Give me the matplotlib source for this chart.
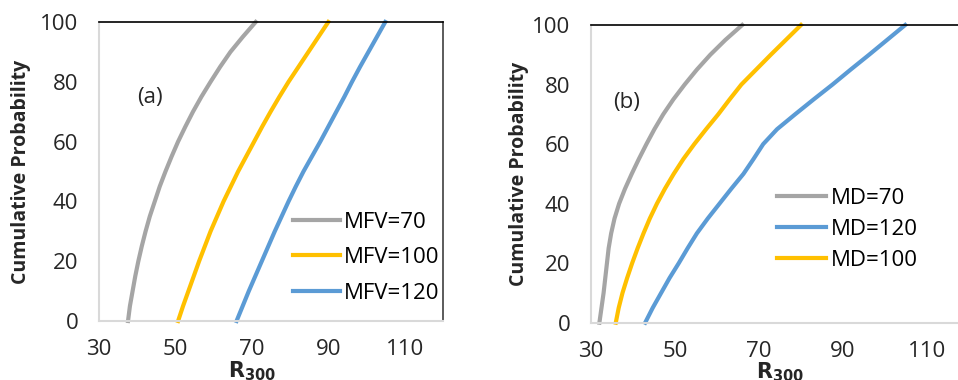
import matplotlib
matplotlib.use("Agg")
import matplotlib.pyplot as plt

plt.rcParams['font.family'] = ['Open Sans', 'DejaVu Sans']

# 누적 확률 (y 값)
prob = [0, 5, 10, 15, 20, 25, 30, 35, 40, 45, 50,
        55, 60, 65, 70, 75, 80, 85, 90, 95, 100]

# (a) MFV 곡선
mfv70 = [37.6, 38.1, 38.8, 39.5, 40.3, 41.2, 42.2, 43.3, 44.6, 45.9, 47.4,
         49.0, 50.7, 52.6, 54.6, 56.8, 59.2, 61.7, 64.4, 67.6, 71.0]
mfv100 = [50.7, 52.0, 53.4, 54.8, 56.2, 57.7, 59.2, 60.9, 62.6, 64.5, 66.4,
          68.5, 70.6, 72.7, 74.9, 77.2, 79.6, 82.2, 84.8, 87.4, 90.0]
mfv120 = [66.0, 67.6, 69.2, 70.9, 72.6, 74.3, 76.0, 77.8, 79.6, 81.5, 83.5,
          85.7, 87.9, 90.0, 92.1, 94.2, 96.2, 98.3, 100.5, 102.7, 104.9]

# (b) MD 곡선
md70 = [32.0, 32.5, 33.0, 33.4, 33.8, 34.2, 34.8, 35.6, 36.7, 38.1, 39.7,
        41.4, 43.2, 45.1, 47.2, 49.6, 52.3, 55.2, 58.4, 62.0, 66.0]
md100 = [35.9, 36.6, 37.5, 38.6, 39.8, 41.1, 42.5, 44.0, 45.7, 47.6, 49.7,
         52.0, 54.6, 57.4, 60.3, 63.0, 65.8, 69.3, 72.8, 76.4, 80.0]
md120 = [42.9, 44.7, 46.7, 48.7, 50.9, 53.0, 55.2, 57.8, 60.6, 63.4, 66.3,
         68.7, 71.0, 74.3, 78.6, 83.0, 87.5, 91.8, 96.2, 100.5, 104.8]

xticks = [30, 50, 70, 90, 110]
yticks = [0, 20, 40, 60, 80, 100]

GRAY = '#A5A5A5'
YELLOW = '#FFC000'
BLUE = '#5B9BD5'
TXT = '#262626'

fig = plt.figure(figsize=(9.58, 3.8), dpi=100)
ax1 = fig.add_axes([0.1033, 0.1553, 0.3591, 0.7868])
ax2 = fig.add_axes([0.6169, 0.1508, 0.3946, 0.7834])


def style(ax, right_visible):
    ax.set_xlim(30, 120)
    ax.set_ylim(0, 100)
    ax.set_xticks(xticks)
    ax.set_yticks(yticks)
    ax.tick_params(length=0, labelsize=16, pad=15, colors=TXT)
    ax.tick_params(axis='x', pad=13)
    for s in ('left', 'bottom'):
        ax.spines[s].set_color('#D9D9D9')
        ax.spines[s].set_linewidth(1.5)
    ax.spines['top'].set_color('black')
    ax.spines['top'].set_linewidth(1.2)
    ax.spines['right'].set_color('#404040')
    ax.spines['right'].set_linewidth(1.2)
    ax.spines['right'].set_visible(right_visible)
    ax.set_ylabel('Cumulative Probability', fontsize=14, fontweight='bold', color=TXT)
    ax.set_xlabel(r'$\mathbf{R}_{\mathbf{300}}$', fontsize=15, color=TXT)


lw = 3
ax1.plot(mfv70, prob, color=GRAY, lw=lw, label='MFV=70', clip_on=False)
ax1.plot(mfv100, prob, color=YELLOW, lw=lw, label='MFV=100', clip_on=False)
ax1.plot(mfv120, prob, color=BLUE, lw=lw, label='MFV=120', clip_on=False)
style(ax1, True)
ax1.yaxis.set_label_coords(-0.198, 0.5)
ax1.xaxis.set_label_coords(0.445, -0.128)
ax1.text(0.11, 0.749, '(a)', transform=ax1.transAxes, fontsize=16, color=TXT,
         va='center', ha='left')
ax1.legend(loc='center left', bbox_to_anchor=(0.564, 0.212), frameon=False,
           fontsize=16, handlelength=2.1, handletextpad=0.2, labelspacing=0.65,
           borderpad=0, borderaxespad=0)

ax2.plot(md70, prob, color=GRAY, lw=lw, label='MD=70', clip_on=False)
ax2.plot(md120, prob, color=BLUE, lw=lw, label='MD=120', clip_on=False)
ax2.plot(md100, prob, color=YELLOW, lw=lw, label='MD=100', clip_on=False)
style(ax2, False)
ax2.yaxis.set_label_coords(-0.163, 0.5)
ax2.xaxis.set_label_coords(0.5, -0.128)
ax2.text(0.059, 0.738, '(b)', transform=ax2.transAxes, fontsize=16, color=TXT,
         va='center', ha='left')
ax2.legend(loc='center left', bbox_to_anchor=(0.493, 0.313), frameon=False,
           fontsize=16, handlelength=2.2, handletextpad=0.2, labelspacing=0.45,
           borderpad=0, borderaxespad=0)

fig.savefig('out.png', dpi=100)
